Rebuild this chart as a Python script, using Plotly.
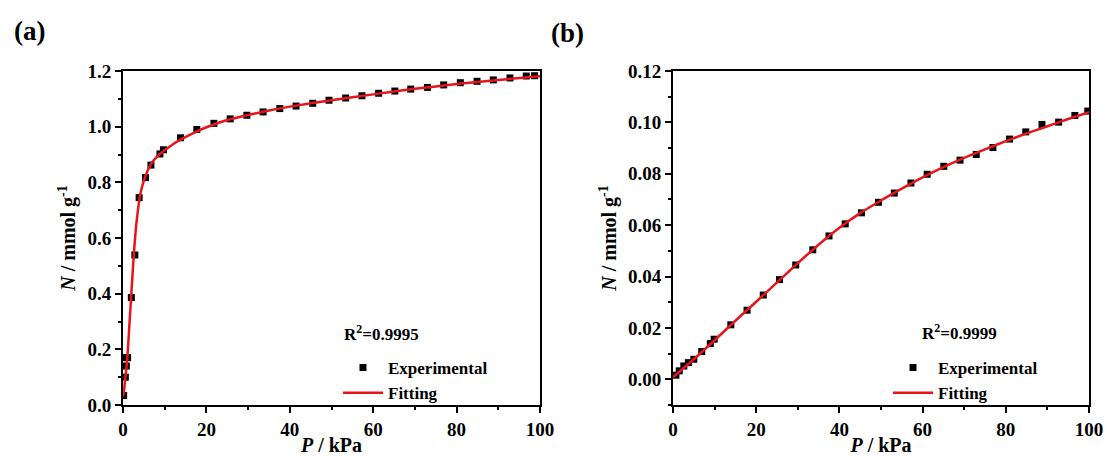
import plotly.graph_objects as go

# ---------------- data ----------------
# (a) experimental
a_exp_p = [0.16, 0.4, 0.56, 0.8, 1.1, 2.0, 2.84, 3.87, 5.4, 6.7, 8.86, 9.7, 13.8, 17.7, 21.8, 25.7,
           29.7, 33.6, 37.6, 41.5, 45.5, 49.4, 53.4, 57.3, 61.3, 65.2, 69.0, 73.0, 76.9, 80.9,
           84.9, 88.8, 92.8, 96.7, 98.7]
a_exp_n = [0.034, 0.17, 0.10, 0.14, 0.17, 0.386, 0.539, 0.745, 0.817, 0.862, 0.902, 0.917, 0.960,
           0.990, 1.012, 1.028, 1.041, 1.053, 1.065, 1.074, 1.084, 1.095, 1.103, 1.111, 1.120,
           1.128, 1.135, 1.141, 1.150, 1.158, 1.163, 1.168, 1.175, 1.182, 1.183]
# (a) fitting
a_fit_p = [0, 0.2, 0.5, 1.0, 1.5, 2.0, 2.5, 3.0, 3.5, 4.0, 4.5, 5.0, 6.0, 7.0, 8.0, 10, 12, 14,
           17, 20, 25, 30, 35, 40, 50, 60, 70, 80, 90, 100]
a_fit_n = [0.03, 0.045, 0.09, 0.16, 0.28, 0.40, 0.52, 0.62, 0.69, 0.745, 0.78, 0.805, 0.845,
           0.872, 0.89, 0.915, 0.937, 0.955, 0.978, 0.998, 1.024, 1.042, 1.058, 1.072, 1.095,
           1.116, 1.136, 1.153, 1.168, 1.181]

# (b) experimental
b_exp_p = [0.7, 1.5, 2.6, 3.7, 5.0, 6.9, 8.97, 9.9, 13.9, 17.8, 21.7, 25.6, 29.5, 33.6, 37.5,
           41.4, 45.3, 49.4, 53.2, 57.2, 61.1, 65.1, 69.0, 72.9, 76.9, 80.9, 84.8, 88.7, 92.7,
           96.6, 99.7]
b_exp_n = [0.0016, 0.0033, 0.0052, 0.0065, 0.0078, 0.0108, 0.0139, 0.0156, 0.0212, 0.0269,
           0.0328, 0.0388, 0.0445, 0.0504, 0.0558, 0.0605, 0.0648, 0.0689, 0.0725, 0.0764,
           0.0798, 0.0829, 0.0853, 0.0875, 0.0902, 0.0935, 0.0963, 0.0992, 0.1001, 0.1027,
           0.1044]
# (b) fitting
b_fit_p = [0, 5, 10, 15, 20, 25, 30, 35, 40, 45, 50, 55, 60, 65, 70, 75, 80, 85, 90, 95, 100]
b_fit_n = [0.0008, 0.0078, 0.0152, 0.0228, 0.0302, 0.0377, 0.0452, 0.0524, 0.0590, 0.0647,
           0.0696, 0.0742, 0.0786, 0.0826, 0.0862, 0.0895, 0.0927, 0.0957, 0.0985, 0.1013,
           0.1040]

r2_a = "R<sup>2</sup>=0.9995"
r2_b = "R<sup>2</sup>=0.9999"

# ---------------- style ----------------
W, H = 1107, 456
FONT = "Liberation Serif"
RED = "#e8141c"

fig = go.Figure()

fig.add_trace(go.Scatter(x=a_exp_p, y=a_exp_n, mode="markers", name="Experimental",
                         marker=dict(symbol="square", size=7, color="black"),
                         xaxis="x", yaxis="y", legend="legend"))
fig.add_trace(go.Scatter(x=a_fit_p, y=a_fit_n, mode="lines", name="Fitting",
                         line=dict(color=RED, width=2.5, shape="spline", smoothing=0.6),
                         xaxis="x", yaxis="y", legend="legend"))
fig.add_trace(go.Scatter(x=b_exp_p, y=b_exp_n, mode="markers", name="Experimental",
                         marker=dict(symbol="square", size=7, color="black"),
                         xaxis="x2", yaxis="y2", legend="legend2"))
fig.add_trace(go.Scatter(x=b_fit_p, y=b_fit_n, mode="lines", name="Fitting",
                         line=dict(color=RED, width=2.5, shape="spline", smoothing=0.6),
                         xaxis="x2", yaxis="y2", legend="legend2"))

tickfont = dict(family=FONT, size=19, color="black", weight="bold")
titlefont = dict(family=FONT, size=20, color="black", weight="bold")

def xax(domain, anchor):
    return dict(domain=domain, anchor=anchor, range=[0, 100], dtick=20, tick0=0,
                showline=True, linecolor="black", linewidth=2, mirror=True,
                ticks="outside", ticklen=6, tickwidth=2, tickcolor="black",
                minor=dict(ticks="outside", ticklen=3, tickwidth=2, dtick=10, tickcolor="black"),
                showgrid=False, zeroline=False, tickfont=tickfont, automargin=False,
                title=dict(text="<i>P</i> / kPa", font=titlefont, standoff=0))

def yax(domain, anchor, rng, dtick, fmt):
    return dict(domain=domain, anchor=anchor, range=rng, dtick=dtick, tick0=0, tickformat=fmt,
                showline=True, linecolor="black", linewidth=2, mirror=True,
                ticks="outside", ticklen=6, tickwidth=2, tickcolor="black",
                minor=dict(ticks="outside", ticklen=3, tickwidth=2, dtick=dtick / 2,
                           tickcolor="black"),
                showgrid=False, zeroline=False, tickfont=tickfont, automargin=False,
                title=dict(text="<i>N</i> / mmol g<sup>-1</sup>", font=titlefont, standoff=6))

ydom = [1 - 405 / H, 1 - 71 / H]
legfont = dict(family=FONT, size=17, color="black", weight="bold")
annfont = dict(family=FONT, size=17, color="black", weight="bold")
panelfont = dict(family=FONT, size=27, color="black", weight="bold")

fig.update_layout(
    width=W, height=H, margin=dict(l=0, r=0, t=0, b=0, autoexpand=False),
    paper_bgcolor="white", plot_bgcolor="white",
    xaxis=xax([123 / W, 540 / W], "y"),
    yaxis=yax(ydom, "x", [0, 1.2], 0.2, ".1f"),
    xaxis2=xax([673 / W, 1089 / W], "y2"),
    yaxis2=yax(ydom, "x2", [-0.01, 0.12], 0.02, ".2f"),
    legend=dict(x=338 / W, y=1 - 350 / H, xanchor="left", yanchor="top",
                bgcolor="rgba(0,0,0,0)", font=legfont, itemwidth=40, tracegroupgap=0),
    legend2=dict(x=888 / W, y=1 - 350 / H, xanchor="left", yanchor="top",
                 bgcolor="rgba(0,0,0,0)", font=legfont, itemwidth=40, tracegroupgap=0),
    showlegend=True,
    annotations=[
        dict(text=r2_a, x=381 / W, y=1 - 333 / H, xref="paper", yref="paper",
             xanchor="center", yanchor="middle", showarrow=False, font=annfont),
        dict(text=r2_b, x=959 / W, y=1 - 332 / H, xref="paper", yref="paper",
             xanchor="center", yanchor="middle", showarrow=False, font=annfont),
        dict(text="(a)", x=12 / W, y=1 - 31 / H, xref="paper", yref="paper",
             xanchor="left", yanchor="middle", showarrow=False, font=panelfont),
        dict(text="(b)", x=549 / W, y=1 - 33 / H, xref="paper", yref="paper",
             xanchor="left", yanchor="middle", showarrow=False, font=panelfont),
    ],
)

fig.write_html("out.html")
